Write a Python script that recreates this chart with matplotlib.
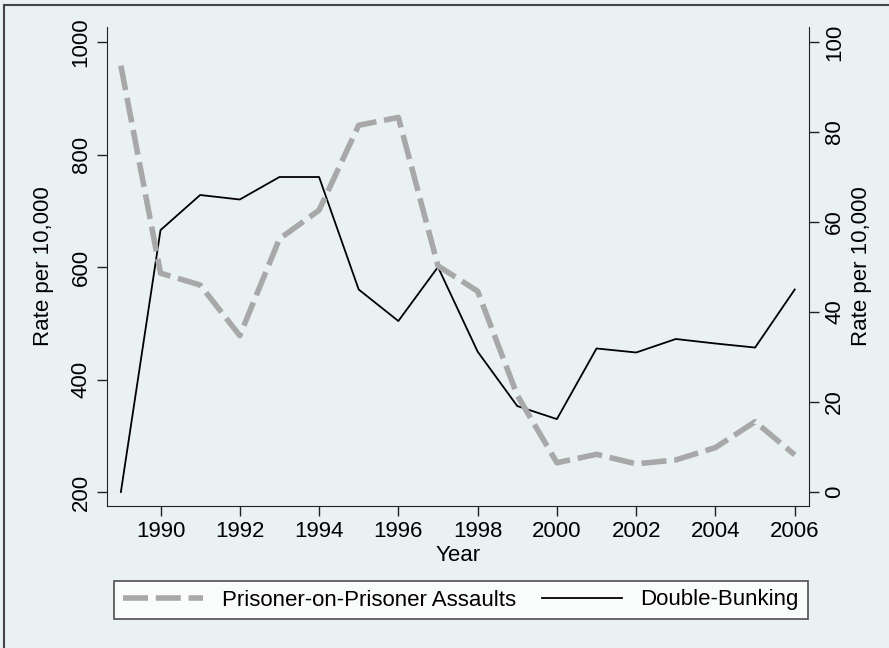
import matplotlib
matplotlib.use('Agg')
import matplotlib.pyplot as plt
from matplotlib.lines import Line2D
from matplotlib import rc

# ----------------
# data
# ----------------
years = [1989, 1990, 1991, 1992, 1993, 1994, 1995, 1996, 1997,
         1998, 1999, 2000, 2001, 2002, 2003, 2004, 2005, 2006]
assaults = [958, 589, 568, 478, 650, 701, 852, 866, 602,
            557, 372, 252, 267, 250, 257, 279, 325, 266]
doubleBunking = [0, 58.2, 66, 65, 70, 70, 45, 38, 50,
                 31.2, 19.1, 16.2, 31.9, 31, 34, 33, 32.1, 45]
xTicks = [1990, 1992, 1994, 1996, 1998, 2000, 2002, 2004, 2006]
leftTicks = [200, 400, 600, 800, 1000]
rightTicks = [0, 20, 40, 60, 80, 100]
gridTicks = [0, 20, 40, 60, 80]

# ----------------
# plot
# ----------------
rc('font', **{'family': 'sans-serif', 'sans-serif': ['Liberation Sans', 'DejaVu Sans'], 'size': 16})
bgColor = '#eaf1f3'
fig = plt.figure(figsize=(8.89, 6.48), dpi=100, facecolor=bgColor)
ax = fig.add_axes([107/889, 1 - 506/648, (809-107)/889, (506-27)/648])
ax2 = ax.twinx()
ax.set_zorder(ax2.get_zorder() + 1)
ax.patch.set_visible(False)
ax2.set_facecolor('white')

dashStyle = (4.5, 1.4)
ax.plot(years, assaults, color='#a8a8a8', linewidth=4, dashes=dashStyle, solid_capstyle='butt')
ax2.plot(years, doubleBunking, color='black', linewidth=1.3)
ax.set_xlim(1988.65, 2006.36)
ax.set_ylim(175.1, 1026.7)
ax2.set_ylim((175.1 - 200) / 8, (1026.7 - 200) / 8)

for g in gridTicks:
    ax2.axhline(g, color='#e8f0f1', linewidth=1.0, zorder=0)

ax.set_xticks(xTicks)
ax.set_yticks(leftTicks)
ax2.set_yticks(rightTicks)
ax.set_yticklabels([str(v) for v in leftTicks], rotation=90, va='center')
ax2.set_yticklabels([str(v) for v in rightTicks], rotation=90, va='center')
for a in (ax, ax2):
    a.tick_params(direction='out', length=7, width=1, color='#222222', labelsize=16, pad=4)
    a.spines['top'].set_visible(False)
    for s in ('left', 'right', 'bottom'):
        a.spines[s].set_color('#222222')
ax.spines['right'].set_visible(False)
ax2.spines['left'].set_visible(False)
ax2.spines['bottom'].set_visible(False)

ax.set_xlabel('Year', fontsize=16, labelpad=2)
ax.set_ylabel('Rate per 10,000', fontsize=16, labelpad=12)
ax2.set_ylabel('Rate per 10,000', fontsize=16, labelpad=4)

handles = [Line2D([0], [0], color='#a8a8a8', linewidth=4, dashes=dashStyle),
           Line2D([0], [0], color='black', linewidth=1.3)]
leg = fig.legend(handles, ['Prisoner-on-Prisoner Assaults', 'Double-Bunking'],
                 loc='center', bbox_to_anchor=(461/889, 1 - 600/648), ncol=2,
                 frameon=True, fancybox=False, edgecolor='#222222', fontsize=16,
                 handlelength=3.6, handletextpad=0.85, columnspacing=1.15, borderpad=0.4)
leg.get_frame().set_linewidth(1.2)

# outer border (left and top)
fig.add_artist(Line2D([4/889, 4/889], [0, 1 - 5/648], color='#444444', linewidth=1.5, transform=fig.transFigure))
fig.add_artist(Line2D([4/889, 1], [1 - 5/648, 1 - 5/648], color='#444444', linewidth=1.5, transform=fig.transFigure))

fig.savefig('out.png', dpi=100, facecolor=bgColor)
